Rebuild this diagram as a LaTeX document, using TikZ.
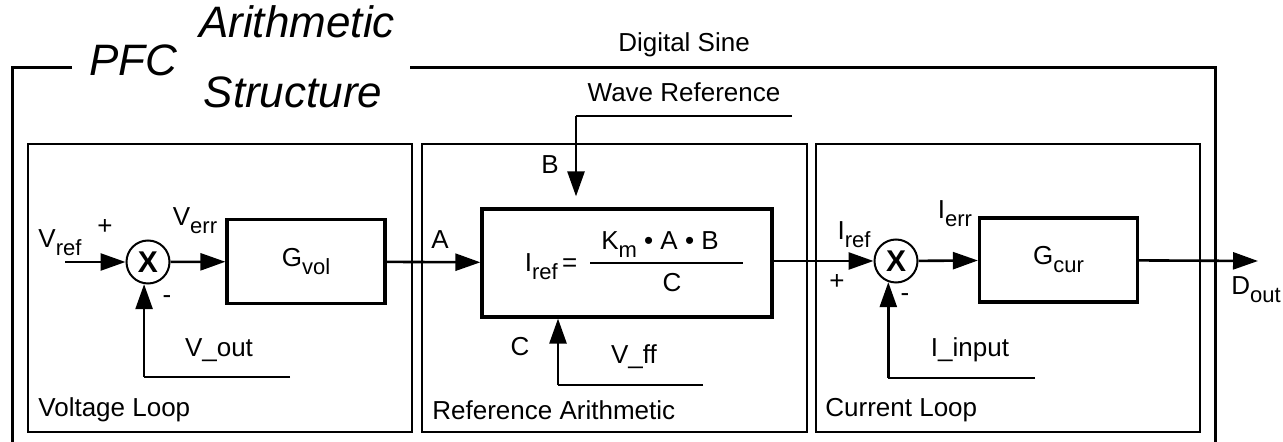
\documentclass[tikz,border=0pt]{standalone}
\usepackage{fontspec}
\setmainfont{Liberation Sans}
\usetikzlibrary{arrows.meta,positioning}
\newcommand{\lowsub}[1]{\raisebox{-4pt}{\fontsize{11}{12}\selectfont #1}}

\begin{document}
\begin{tikzpicture}[x=0.5pt, y=-0.5pt, >={Triangle[length=12.5pt,width=8.5pt]},
    lbl/.style={font=\fontsize{13}{15}\selectfont, inner sep=0pt},
    title/.style={font=\fontsize{22}{24}\selectfont\itshape, inner sep=0pt},
    frame/.style={line width=1.5pt},
    group/.style={draw, line width=1pt},
    block/.style={draw, line width=1.6pt, minimum width=79pt, minimum height=42pt,
                  font=\fontsize{13}{15}\selectfont},
    sumnode/.style={draw, circle, line width=1pt, minimum size=21.5pt, inner sep=0pt,
                  font=\fontsize{15}{17}\selectfont\bfseries},
    wire/.style={line width=1.3pt},
    feed/.style={line width=1pt}]
    \useasboundingbox (0,0) rectangle (1283,442);

    % Outer frame and title
    \draw[frame] (72,68) -- (12,68) -- (12,442);
    \draw[frame] (410,68) -- (1215,68) -- (1215,442);
    \node[title] (pfc) at (133,60) {PFC};
    \node[title] (arith) at (297,22) {Arithmetic};
    \node[title] (struct) at (293,92) {Structure};

    % Three loop groups
    \draw[group] (28,144) rectangle (412,432);
    \draw[group] (422,144) rectangle (807,432);
    \draw[group] (816,144) rectangle (1200,432);
    \node[lbl, anchor=west] (vloop) at (38,410) {Voltage Loop};
    \node[lbl, anchor=west] (rarith) at (432,410) {Reference Arithmetic};
    \node[lbl, anchor=west] (cloop) at (825,410) {Current Loop};

    % Voltage loop
    \coordinate (vin) at (65,262);
    \node[sumnode] (sv) at (148,262) {X};
    \node[block] (gvol) at (306,261.5) {G\lowsub{vol}};
    \coordinate (vfb) at (290,377);
    \draw[wire, ->] (vin) -- (sv);
    \draw[wire, ->] (sv) -- (gvol);
    \draw[feed] (vfb) -- (vfb -| sv.-100);
    \draw[wire, ->] (vfb -| sv.-100) -- (sv.-100);
    \node[lbl] (vref) at (60,243) {V\lowsub{ref}};
    \node[lbl] (vplus) at (105,227) {+};
    \node[lbl] (vminus) at (167,300) {-};
    \node[lbl] (verr) at (195,221) {V\lowsub{err}};
    \node[lbl] (vout) at (219,350) {V\_out};

    % Reference arithmetic
    \node[block, minimum width=145pt, minimum height=54pt] (iref) at (627,263) {};
    \draw[wire, ->] (gvol) -- (iref);
    \node[lbl] (lA) at (440,240) {A};
    \node[lbl] (ieq) at (551,267) {I\lowsub{ref}\,=};
    \node[lbl] (num) at (660,245) {K\lowsub{m} • A • B};
    \node[lbl] (den) at (672,283) {C};
    \draw[wire] (590,263) -- (743,263);
    \coordinate (wref) at (792,116);
    \coordinate (bend) at (576,116);
    \draw[feed] (wref) -- (bend);
    \draw[wire, ->, shorten >=5.5pt] (bend) -- (bend |- iref.north);
    \node[lbl] (digsine) at (684,45) {Digital Sine};
    \node[lbl] (wavref) at (684,92) {Wave Reference};
    \node[lbl] (lB) at (550,165) {B};
    \coordinate (vff) at (703,385);
    \coordinate (cbend) at (558,385);
    \draw[feed] (vff) -- (cbend);
    \draw[wire, ->] (cbend) -- (cbend |- iref.south);
    \node[lbl] (lC) at (520,347) {C};
    \node[lbl] (vffl) at (634,357) {V\_ff};

    % Current loop
    \node[sumnode] (si) at (896,261) {X};
    \node[block] (gcur) at (1058.5,260) {G\lowsub{cur}};
    \coordinate (dout) at (1258,261);
    \coordinate (ifb) at (1035,378);
    \draw[wire, ->] (iref.east |- si) -- (si);
    \draw[wire, ->] (si) -- (gcur);
    \draw[wire, ->] (gcur) -- (dout);
    \draw[feed] (ifb) -- (ifb -| si.-110);
    \draw[wire, ->] (ifb -| si.-110) -- (si.-110);
    \node[lbl] (irefl) at (854,235) {I\lowsub{ref}};
    \node[lbl] (iplus) at (837,282) {+};
    \node[lbl] (iminus) at (905,298) {-};
    \node[lbl] (ierr) at (955,214) {I\lowsub{err}};
    \node[lbl] (iinput) at (970,350) {I\_input};
    \node[lbl] (doutl) at (1256,290) {D\lowsub{out}};
\end{tikzpicture}
\end{document}
